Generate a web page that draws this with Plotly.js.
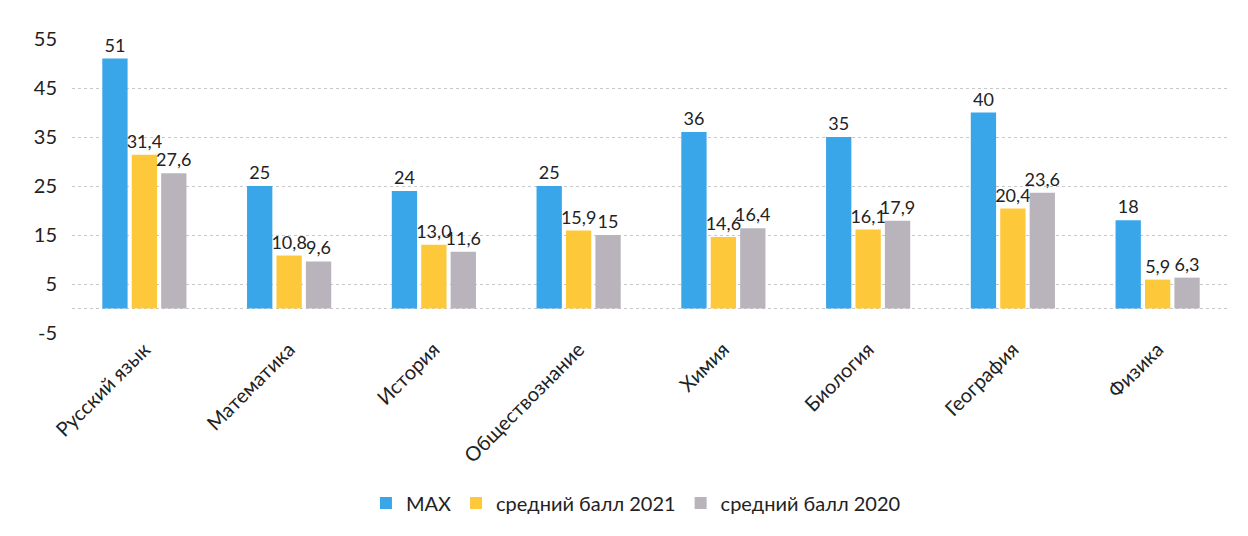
<!DOCTYPE html>
<html>
<head>
<meta charset="utf-8">
<script src="https://cdn.plot.ly/plotly-3.0.1.min.js"></script>
<style>html,body{margin:0;padding:0;background:#fff;}#chart{width:1248px;height:536px;}</style>
</head>
<body>
<div id="chart"></div>
<script>
const categories = ["Русский язык", "Математика", "История", "Обществознание", "Химия", "Биология", "География", "Физика"];
const seriesNames = ["MAX", "средний балл 2021", "средний балл 2020"];
const maxValues = [51, 25, 24, 25, 36, 35, 40, 18];
const avg2021 = [31.4, 10.8, 13.0, 15.9, 14.6, 16.1, 20.4, 5.9];
const avg2020 = [27.6, 9.6, 11.6, 15, 16.4, 17.9, 23.6, 6.3];
const maxLabels = ["51", "25", "24", "25", "36", "35", "40", "18"];
const labels2021 = ["31,4", "10,8", "13,0", "15,9", "14,6", "16,1", "20,4", "5,9"];
const labels2020 = ["27,6", "9,6", "11,6", "15", "16,4", "17,9", "23,6", "6,3"];
const yTicks = [-5, 5, 15, 25, 35, 45, 55];

const font = "Lato, 'Open Sans', sans-serif";
const colors = ["#3AA6EA", "#FDC93A", "#B9B4BC"];
const values = [maxValues, avg2021, avg2020];
const texts = [maxLabels, labels2021, labels2020];

const data = values.map((v, i) => ({
  type: "bar",
  name: seriesNames[i],
  x: categories,
  y: v,
  text: texts[i],
  textposition: "outside",
  constraintext: "none",
  cliponaxis: false,
  textfont: {family: font, size: 18, color: "#222"},
  marker: {color: colors[i]},
  hoverinfo: "skip"
}));

const layout = {
  width: 1248, height: 536,
  margin: {l: 72, r: 18, t: 39, b: 203},
  paper_bgcolor: "#fff", plot_bgcolor: "#fff",
  barmode: "group",
  bargap: 0.39,
  bargroupgap: 0.14,
  font: {family: font, size: 20, color: "#222"},
  xaxis: {
    tickangle: -45,
    tickfont: {family: font, size: 20, color: "#222"},
    showline: false, ticks: "", showgrid: false
  },
  yaxis: {
    range: [-5, 55],
    tickvals: yTicks,
    ticktext: yTicks.map(String),
    tickfont: {family: font, size: 20, color: "#222"},
    ticklabelstandoff: 14,
    showgrid: true, gridcolor: "#c8c8c8", griddash: "dot", gridwidth: 1,
    zeroline: false, showline: false, ticks: "", ticklen: 0,
    automargin: false
  },
  shapes: [{type: "line", xref: "paper", x0: 0, x1: 1, yref: "y", y0: 0, y1: 0,
            line: {color: "#c8c8c8", width: 1, dash: "dot"}, layer: "below"}],
  showlegend: true,
  legend: {
    orientation: "h", x: 0.487, xanchor: "center", y: -0.578, yanchor: "middle",
    font: {family: font, size: 20, color: "#222"},
    itemwidth: 30
  }
};

Plotly.newPlot("chart", data, layout, {displayModeBar: false, staticPlot: true});
</script>
</body>
</html>
